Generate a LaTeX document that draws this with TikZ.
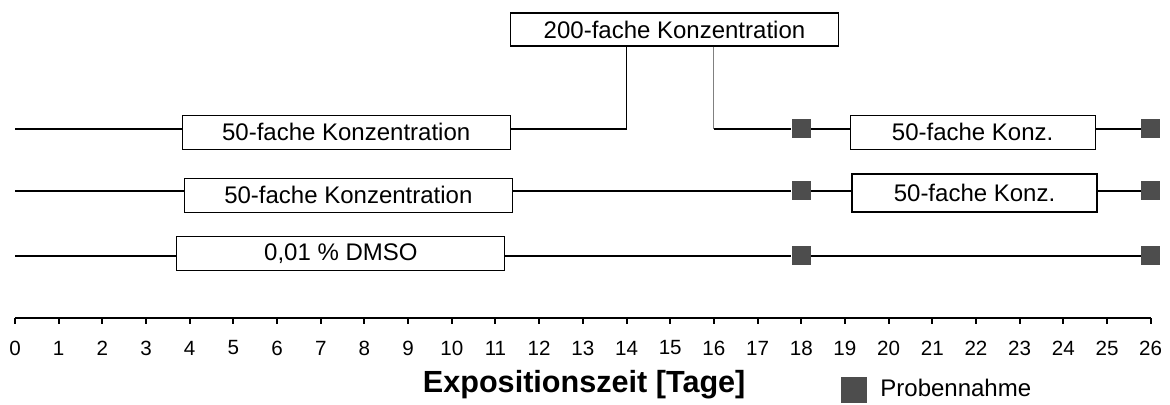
\documentclass[tikz,border=0pt]{standalone}
\usepackage{fontspec}
\setmainfont{Liberation Sans}
\definecolor{probgrau}{HTML}{4D4D4D}
\tikzset{
  dosis/.style={draw, fill=white, line width=0.6pt, minimum width=164pt,
    minimum height=17pt, inner sep=0pt, font=\fontsize{12}{14}\selectfont},
  kurz/.style={dosis, minimum width=122.5pt},
  probe/.style={fill=probgrau, minimum size=9.5pt, inner sep=0pt},
  zeitlinie/.style={line width=1pt},
  steg/.style={line width=0.5pt},
}
\begin{document}
\begin{tikzpicture}[x=21.84pt, y=-0.5pt]
  \useasboundingbox (-0.3434,0) rectangle (26.442,405);
  % Zeitachse
  \draw[zeitlinie] (0,318) -- (26,318);
  \foreach \x in {0,...,26}{
    \draw[zeitlinie] (\x,318) -- (\x,324);
    \node[font=\fontsize{10.3}{12}\selectfont] (T\x) at (\x,348) {\x};
  }
  \node[font=\bfseries\fontsize{15.3}{18}\selectfont] (titel) at (13.03,385) {Expositionszeit [Tage]};
  \node[probe, minimum size=13pt] (leg) at (19.208,389.5) {};
  \node[anchor=west, inner sep=0pt, font=\fontsize{12}{14}\selectfont] (legtext) at (19.803,388) {Probennahme};
  % Probennahme an Tag 18 und 26
  \foreach \r/\y in {1/129, 2/190.7, 3/255.7}{
    \coordinate (L\r) at (0,\y);
    \node[probe] (S\r-18) at (18,\y) {};
    \node[probe] (S\r-26) at (26,\y) {};
  }
  % Expositionsphasen
  \node[dosis] (B1) at (7.582,132.3) {50-fache Konzentration};
  \node[dosis] (B2) at (7.632,195.2) {50-fache Konzentration};
  \node[dosis] (B3) at (7.46,253.8) {0,01 \% DMSO};
  \node[dosis, minimum height=16.5pt] (B200) at (15.098,29.5) {200-fache Konzentration};
  \node[kurz] (K1) at (21.924,132.3) {50-fache Konz.};
  \node[kurz, minimum height=19pt] (K2) at (21.967,193) {50-fache Konz.};
  \coordinate (H1) at (14,129);
  \coordinate (H2) at (16,129);
  % Reihe 1
  \draw[zeitlinie] (L1) -- (L1 -| B1.west);
  \draw[zeitlinie] (B1.east |- L1) -- (H1);
  \draw[steg] (H1) -- (H1 |- B200.south);
  \draw[steg, gray] (H2 |- B200.south) -- (H2);
  \draw[zeitlinie] (H2) -- (S1-18);
  \draw[zeitlinie] (S1-18) -- (S1-18 -| K1.west);
  \draw[zeitlinie] (K1.east |- L1) -- (S1-26);
  % Reihe 2
  \draw[zeitlinie] (L2) -- (L2 -| B2.west);
  \draw[zeitlinie] (B2.east |- L2) -- (S2-18);
  \draw[zeitlinie] (S2-18) -- (S2-18 -| K2.west);
  \draw[zeitlinie] (K2.east |- L2) -- (S2-26);
  % Reihe 3
  \draw[zeitlinie] (L3) -- (L3 -| B3.west);
  \draw[zeitlinie] (B3.east |- L3) -- (S3-18);
  \draw[zeitlinie] (S3-18) -- (S3-26);
\end{tikzpicture}
\end{document}
